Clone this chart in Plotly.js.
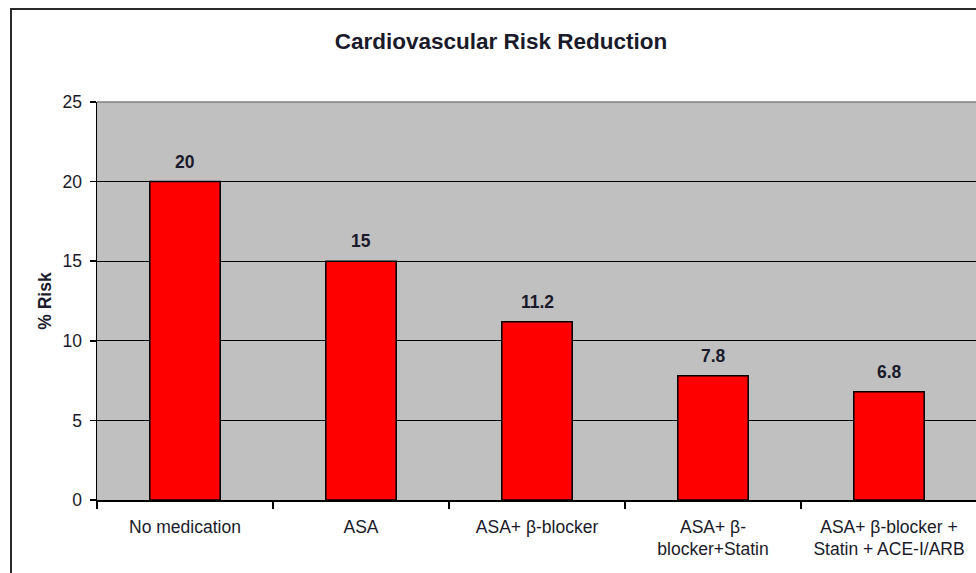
<!DOCTYPE html>
<html>
<head>
<meta charset="utf-8">
<script src="https://cdn.plot.ly/plotly-3.0.1.min.js"></script>
<style>
  html, body { margin:0; padding:0; width:976px; height:573px; overflow:hidden; background:#fff; }
  #frame { position:absolute; left:10px; top:8px; width:1100px; height:700px; border:2px solid #2a2a2a; }
  #chart { position:absolute; left:0; top:0; width:1000px; height:600px; }
</style>
</head>
<body>
<div id="frame"></div>
<div id="chart"></div>
<script>
const categories = [
  "No medication",
  "ASA",
  "ASA+ β-blocker",
  "ASA+ β-<br>blocker+Statin",
  "ASA+ β-blocker +<br>Statin + ACE-I/ARB"
];
const riskValues = [20, 15, 11.2, 7.8, 6.8];
const valueLabels = ["20", "15", "11.2", "7.8", "6.8"];
const yTicks = [0, 5, 10, 15, 20, 25];

const FONT = "Liberation Sans, Arial, sans-serif";
const TXT = "#1a1a2a";

const trace = {
  type: "bar",
  x: categories,
  y: riskValues,
  width: 0.4,
  marker: { color: "#FF0000", line: { color: "#000000", width: 1.5 } },
  hoverinfo: "skip",
  showlegend: false
};

const annotations = categories.map((c, i) => ({
  x: c, y: riskValues[i], xref: "x", yref: "y",
  text: "<b>" + valueLabels[i] + "</b>",
  showarrow: false, yanchor: "bottom", yshift: 8,
  font: { family: FONT, size: 17.5, color: TXT }
}));

const layout = {
  width: 1000, height: 600,
  margin: { l: 97, r: 23, t: 102, b: 100 },
  paper_bgcolor: "rgba(0,0,0,0)",
  plot_bgcolor: "#C0C0C0",
  bargap: 0.6,
  title: {
    text: "<b>Cardiovascular Risk Reduction</b>",
    x: 501 / 1000, xanchor: "center", xref: "container",
    y: 1 - 41 / 600, yanchor: "middle", yref: "container",
    font: { family: FONT, size: 22.5, color: TXT }
  },
  xaxis: {
    type: "category",
    tickson: "boundaries",
    ticks: "outside", ticklen: 7, tickcolor: "#000", tickwidth: 1.5,
    showline: true, linecolor: "#000", linewidth: 1.5,
    showgrid: false, zeroline: false,
    ticklabelstandoff: 10,
    tickfont: { family: FONT, size: 17.5, color: TXT },
    fixedrange: true
  },
  yaxis: {
    range: [0, 25],
    tickvals: yTicks,
    ticktext: yTicks.map(String),
    ticks: "outside", ticklen: 6, tickcolor: "#000", tickwidth: 1.5,
    showline: true, linecolor: "#000", linewidth: 1.5,
    showgrid: true, gridcolor: "#000", gridwidth: 1,
    zeroline: false,
    ticklabelstandoff: 4,
    tickfont: { family: FONT, size: 17.5, color: TXT },
    title: { text: "<b>% Risk</b>", standoff: 6, font: { family: FONT, size: 17.5, color: TXT } },
    fixedrange: true
  },
  shapes: [
    { type: "line", xref: "paper", yref: "paper", x0: 0, x1: 1, y0: 1, y1: 1,
      line: { color: "#808080", width: 1.5 } }
  ],
  annotations: annotations
};

Plotly.newPlot("chart", [trace], layout, { displayModeBar: false, staticPlot: true });
</script>
</body>
</html>
